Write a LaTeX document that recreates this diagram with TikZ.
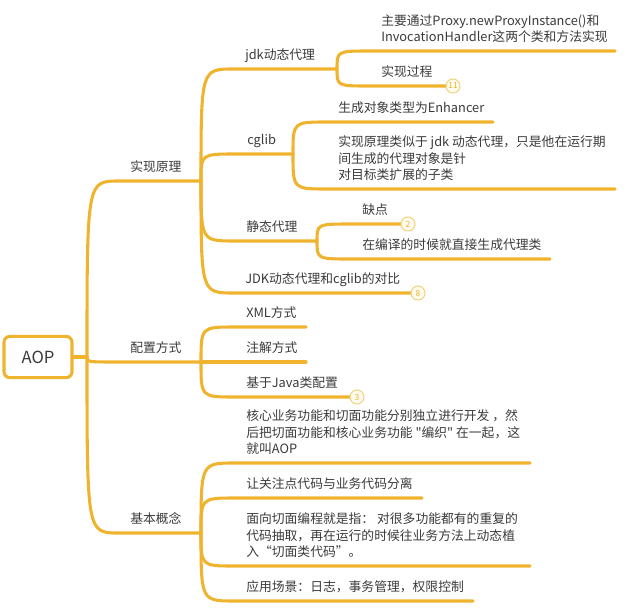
\documentclass[tikz,border=0pt]{standalone}
\usepackage{fontspec}
\setmainfont{Noto Sans CJK SC}[Ligatures=TeXOff]
\usetikzlibrary{calc}
\definecolor{xmindorange}{HTML}{EFB32E}
\definecolor{badgeline}{HTML}{F1D37F}
\definecolor{badgefill}{HTML}{FFFCEF}
\definecolor{inkgray}{HTML}{3A3A3A}
\tikzset{
    branch/.style={draw=xmindorange, line width=2.3pt, line cap=round},
    leaf/.style={anchor=south west, inner sep=0pt, text depth=0pt, align=left,
        text=inkgray, font=\fontsize{9.6pt}{12.4pt}\selectfont},
    badge/.style={circle, draw=badgeline, fill=badgefill, line width=0.8pt,
        minimum size=10.5pt, inner sep=0pt, text=xmindorange,
        font=\fontsize{6.3pt}{6.3pt}\selectfont}
}
\newcommand*\branchto[3]{\draw[branch] (#1) .. controls (#1 |- #2) .. (#2) -- (#3);}

\begin{document}
\begin{tikzpicture}[x=0.75pt, y=-0.75pt,
        rootbox/.style={draw=xmindorange, line width=2.3pt, fill=white,
            rounded corners=4.5pt, minimum width=51pt, minimum height=31pt,
            text=inkgray, font=\fontsize{12.5pt}{14pt}\selectfont}]
    \useasboundingbox (0,0) rectangle (634,607);
    \node[rootbox] (aop) at (38,357) {AOP};
    \coordinate (root) at (87,357);
    \draw[branch] (aop.east) -- (root);
    \coordinate (ha-s) at (119,181); \coordinate (hubA) at (201,181);
    \coordinate (hb-s) at (119,362); \coordinate (hubB) at (201,362);
    \coordinate (hc-s) at (119,533); \coordinate (hubC) at (201,533);
    \branchto{root}{ha-s}{hubA}
    \branchto{root}{hb-s}{hubB}
    \branchto{root}{hc-s}{hubC}
    \node[leaf] (t-impl) at ($(ha-s)+(11,-9)$) {实现原理};
    \node[leaf] (t-conf) at ($(hb-s)+(11,-9)$) {配置方式};
    \node[leaf] (t-base) at ($(hc-s)+(11,-9)$) {基本概念};

    \coordinate (jdk-s) at (234,69);  \coordinate (jdk-e) at (337,69);
    \coordinate (cg-s) at (236,154);  \coordinate (cg-e) at (293,154);
    \coordinate (st-s) at (235,241);  \coordinate (st-e) at (317,241);
    \coordinate (cmp-s) at (234,293); \coordinate (cmp-e) at (418,293);
    \branchto{hubA}{jdk-s}{jdk-e}
    \branchto{hubA}{cg-s}{cg-e}
    \branchto{hubA}{st-s}{st-e}
    \branchto{hubA}{cmp-s}{cmp-e}
    \node[leaf] (t-jdk) at ($(jdk-s)+(11,-9)$) {jdk动态代理};
    \node[leaf] (t-cg) at ($(cg-s)+(11,-9)$) {cglib};
    \node[leaf] (t-st) at ($(st-s)+(11,-9)$) {静态代理};
    \node[leaf] (t-cmp) at ($(cmp-s)+(11,-9)$) {JDK动态代理和cglib的对比};
    \node[badge] (b-cmp) at (cmp-e) {8};

    \coordinate (px-s) at (370,51);  \coordinate (px-e) at (615,51);
    \coordinate (how-s) at (370,86); \coordinate (how-e) at (453,86);
    \branchto{jdk-e}{px-s}{px-e}
    \branchto{jdk-e}{how-s}{how-e}
    \node[leaf] (t-px) at ($(px-s)+(11,-9)$) {主要通过Proxy.newProxyInstance()和\\InvocationHandler这两个类和方法实现};
    \node[leaf] (t-how) at ($(how-s)+(11,-9)$) {实现过程};
    \node[badge] (b-how) at (how-e) {11};

    \coordinate (enh-s) at (327,122); \coordinate (enh-e) at (493,122);
    \coordinate (sub-s) at (327,189); \coordinate (sub-e) at (615,189);
    \branchto{cg-e}{enh-s}{enh-e}
    \branchto{cg-e}{sub-s}{sub-e}
    \node[leaf] (t-enh) at ($(enh-s)+(11,-9)$) {生成对象类型为Enhancer};
    \node[leaf] (t-sub) at ($(sub-s)+(11,-9)$) {实现原理类似于 jdk 动态代理，只是他在运行期\\间生成的代理对象是针\\对目标类扩展的子类};

    \coordinate (weak-s) at (351,224); \coordinate (weak-e) at (408,224);
    \coordinate (comp-s) at (351,259); \coordinate (comp-e) at (550,259);
    \branchto{st-e}{weak-s}{weak-e}
    \branchto{st-e}{comp-s}{comp-e}
    \node[leaf] (t-weak) at ($(weak-s)+(11,-9)$) {缺点};
    \node[leaf] (t-comp) at ($(comp-s)+(11,-9)$) {在编译的时候就直接生成代理类};
    \node[badge] (b-weak) at (weak-e) {2};

    \coordinate (xml-s) at (235,327);  \coordinate (xml-e) at (306,327);
    \coordinate (ann-s) at (235,362);  \coordinate (ann-e) at (306,362);
    \coordinate (java-s) at (235,397); \coordinate (java-e) at (357,397);
    \branchto{hubB}{xml-s}{xml-e}
    \branchto{hubB}{ann-s}{ann-e}
    \branchto{hubB}{java-s}{java-e}
    \node[leaf] (t-xml) at ($(xml-s)+(11,-9)$) {XML方式};
    \node[leaf] (t-ann) at ($(ann-s)+(11,-9)$) {注解方式};
    \node[leaf] (t-java) at ($(java-s)+(11,-9)$) {基于Java类配置};
    \node[badge] (b-java) at (java-e) {3};

    \coordinate (core-s) at (235,463); \coordinate (core-e) at (530,463);
    \coordinate (sep-s) at (235,498);  \coordinate (sep-e) at (422,498);
    \coordinate (asp-s) at (235,566);  \coordinate (asp-e) at (530,566);
    \coordinate (use-s) at (235,601);  \coordinate (use-e) at (473,601);
    \branchto{hubC}{core-s}{core-e}
    \branchto{hubC}{sep-s}{sep-e}
    \branchto{hubC}{asp-s}{asp-e}
    \branchto{hubC}{use-s}{use-e}
    \node[leaf] (t-core) at ($(core-s)+(11,-9)$) {核心业务功能和切面功能分别独立进行开发 ，然\\后把切面功能和核心业务功能 "编织" 在一起，这\\就叫AOP};
    \node[leaf] (t-sep) at ($(sep-s)+(11,-9)$) {让关注点代码与业务代码分离};
    \node[leaf] (t-asp) at ($(asp-s)+(11,-9)$) {面向切面编程就是指： 对很多功能都有的重复的\\代码抽取，再在运行的时候往业务方法上动态植\\入“切面类代码”。};
    \node[leaf] (t-use) at ($(use-s)+(11,-9)$) {应用场景：日志，事务管理，权限控制};
\end{tikzpicture}
\end{document}
